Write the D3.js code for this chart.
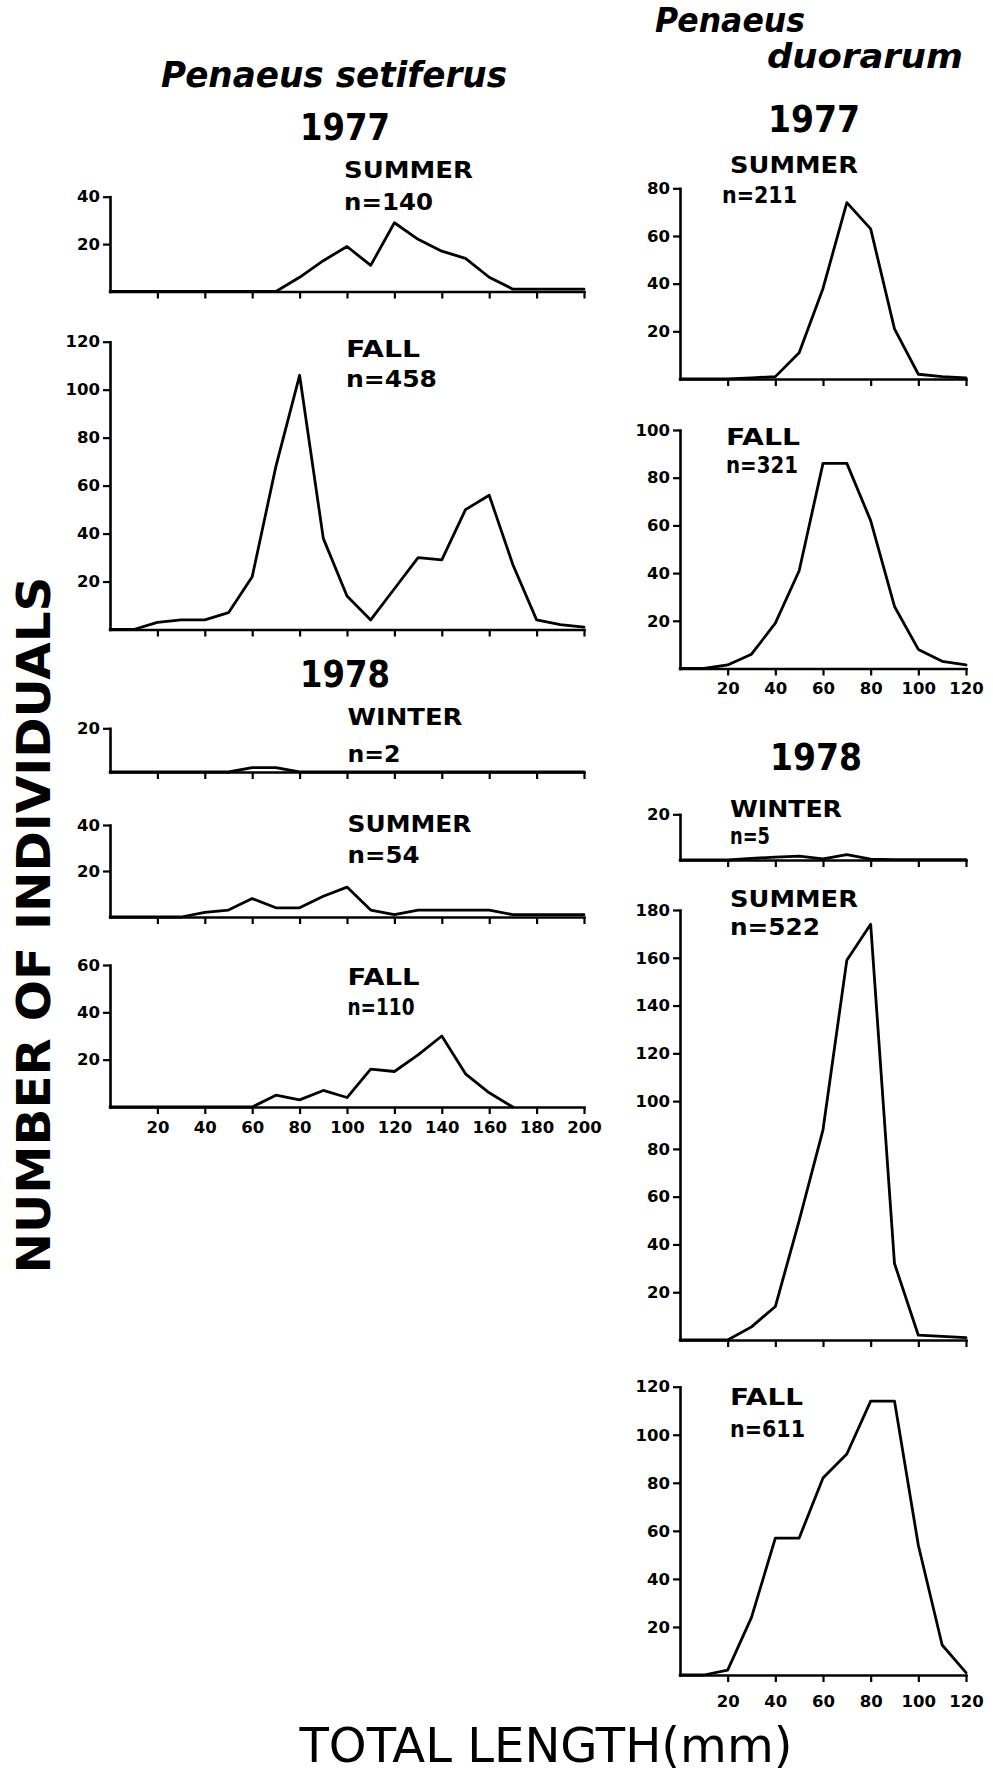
<!DOCTYPE html>
<html><head><meta charset="utf-8">
<script src="https://cdn.jsdelivr.net/npm/d3@7"></script>
<style>
html,body{margin:0;padding:0;background:#fff;}
svg{display:block;}
</style></head><body>
<svg id="chart" width="993" height="1776"></svg>
<script>
// ---------------- DATA ----------------
// Total length classes (mm)
const lengthsSetiferus = [0,10,20,30,40,50,60,70,80,90,100,110,120,130,140,150,160,170,180,190,200];
const lengthsDuorarum  = [0,10,20,30,40,50,60,70,80,90,100,110,120];

// Penaeus setiferus — number of individuals per length class
const setiferusSummer1977 = [0,0,0,0,0,0,0,0,6,13,19,11,29,22,17,14,6,1,1,1,1];
const setiferusFall1977   = [0,0,3,4,4,7,22,68,106,38,14,4,17,30,29,50,56,27,4,2,1];
const setiferusWinter1978 = [0,0,0,0,0,0,2,2,0,0,0,0,0,0,0,0,0,0,0,0,0];
const setiferusSummer1978 = [0,0,0,0,2,3,8,4,4,9,13,3,1,3,3,3,3,1,1,1,1];
const setiferusFall1978   = [0,0,0,0,0,0,0,5,3,7,4,16,15,22,30,14,6,0];

// Penaeus duorarum — number of individuals per length class
const duorarumSummer1977 = [0,0,0,0.5,1,11,38,74,63,21,2,1,0.5];
const duorarumFall1977   = [0,0,1.5,6,19,41,86,86,62,26,8,3,1.5];
const duorarumWinter1978 = [0,0,0,0.7,1.3,1.7,0.5,2.3,0.4,0.2,0.2,0.2,0.2];
const duorarumSummer1978 = [0,0,0,5.5,14,50,88,159,174,32,2,1.5,1];
const duorarumFall1978   = [0,0,2,24,57,57,82,92,114,114,54,12.5,1];

// Tick labels
const xTicksSetiferus = [20,40,60,80,100,120,140,160,180,200];
const xTicksDuorarum  = [20,40,60,80,100,120];
const yTicks20   = [20];
const yTicks40   = [20,40];
const yTicks60   = [20,40,60];
const yTicks80   = [20,40,60,80];
const yTicks100  = [20,40,60,80,100];
const yTicks120  = [20,40,60,80,100,120];
const yTicks180  = [20,40,60,80,100,120,140,160,180];

// Text labels
const speciesLeft  = "Penaeus setiferus";
const speciesRight1 = "Penaeus";
const speciesRight2 = "duorarum";
const years = ["1977","1978"];
const seasons = ["SUMMER","FALL","WINTER","SUMMER","FALL"];
const nLeft  = ["n=140","n=458","n=2","n=54","n=110"];
const nRight = ["n=211","n=321","n=5","n=522","n=611"];
const yTitle = "NUMBER OF INDIVIDUALS";
const xTitle = "TOTAL LENGTH(mm)";

// ---------------- LAYOUT ----------------
const svg = d3.select("#chart");
const FONT = "'DejaVu Sans', 'Liberation Sans', Arial, sans-serif";

const leftX  = [110, 584];
const rightX = [680, 966];

const panels = [
  {lengths: lengthsSetiferus, values: setiferusSummer1977, xmax:200, xr:leftX, ymax:40,  y0:291.5, y1:196.7, yt:yTicks40,  xt:xTicksSetiferus, showX:false, pad:7},
  {lengths: lengthsSetiferus, values: setiferusFall1977,   xmax:200, xr:leftX, ymax:120, y0:629.5, y1:341.7, yt:yTicks120, xt:xTicksSetiferus, showX:false, pad:7},
  {lengths: lengthsSetiferus, values: setiferusWinter1978, xmax:200, xr:leftX, ymax:20,  y0:772,   y1:728.3, yt:yTicks20,  xt:xTicksSetiferus, showX:false, pad:7},
  {lengths: lengthsSetiferus, values: setiferusSummer1978, xmax:200, xr:leftX, ymax:40,  y0:917,   y1:825,   yt:yTicks40,  xt:xTicksSetiferus, showX:false, pad:7},
  {lengths: lengthsSetiferus, values: setiferusFall1978,   xmax:200, xr:leftX, ymax:60,  y0:1107,  y1:965,   yt:yTicks60,  xt:xTicksSetiferus, showX:true,  pad:7},
  {lengths: lengthsDuorarum, values: duorarumSummer1977, xmax:120, xr:rightX, ymax:80,  y0:379,  y1:188.3, yt:yTicks80,  xt:xTicksDuorarum, showX:false, pad:7},
  {lengths: lengthsDuorarum, values: duorarumFall1977,   xmax:120, xr:rightX, ymax:100, y0:668.5,y1:430,   yt:yTicks100, xt:xTicksDuorarum, showX:true,  pad:7},
  {lengths: lengthsDuorarum, values: duorarumWinter1978, xmax:120, xr:rightX, ymax:20,  y0:860,  y1:814.3, yt:yTicks20,  xt:xTicksDuorarum, showX:false, pad:7},
  {lengths: lengthsDuorarum, values: duorarumSummer1978, xmax:120, xr:rightX, ymax:180, y0:1340, y1:910,   yt:yTicks180, xt:xTicksDuorarum, showX:false, pad:7},
  {lengths: lengthsDuorarum, values: duorarumFall1978,   xmax:120, xr:rightX, ymax:120, y0:1675, y1:1386.7,yt:yTicks120, xt:xTicksDuorarum, showX:true,  pad:13}
];

function drawPanel(p) {
  const x = d3.scaleLinear().domain([0, p.xmax]).range(p.xr);
  const y = d3.scaleLinear().domain([0, p.ymax]).range([p.y0, p.y1]);
  const g = svg.append("g");

  const xa = d3.axisBottom(x).tickValues(p.xt).tickSize(7).tickSizeOuter(0).tickPadding(p.pad)
      .tickFormat(p.showX ? d3.format("d") : () => "");
  const gx = g.append("g").attr("transform", `translate(0,${p.y0})`).call(xa);

  const ya = d3.axisLeft(y).tickValues(p.yt).tickSize(7).tickSizeOuter(0).tickPadding(3)
      .tickFormat(d3.format("d"));
  const gy = g.append("g").attr("transform", `translate(${p.xr[0]},0)`).call(ya);

  [gx, gy].forEach(a => {
    a.select(".domain").attr("stroke", "#000").attr("stroke-width", 2.6).attr("stroke-linecap","square");
    a.selectAll(".tick line").attr("stroke", "#000").attr("stroke-width", 2.2);
    a.selectAll(".tick text").attr("fill", "#000").style("font-family", FONT)
      .style("font-weight", "bold").style("font-size", "16.5px");
  });

  const line = d3.line().x(d => x(d[0])).y(d => y(d[1]));
  g.append("path")
    .datum(d3.zip(p.lengths.slice(0, p.values.length), p.values))
    .attr("d", line)
    .attr("fill", "none").attr("stroke", "#000")
    .attr("stroke-width", 2.8).attr("stroke-linejoin", "round").attr("stroke-linecap", "round");
}
panels.forEach(drawPanel);

function label(txt, x, y, size, len, opts = {}) {
  const t = svg.append("text").text(txt)
    .attr("x", x).attr("y", y)
    .attr("fill", "#000")
    .style("font-family", FONT)
    .style("font-size", size + "px")
    .style("font-weight", opts.weight || "bold")
    .style("font-style", opts.italic ? "italic" : "normal");
  if (len) t.attr("textLength", len).attr("lengthAdjust", "spacingAndGlyphs");
  if (opts.anchor) t.attr("text-anchor", opts.anchor);
  if (opts.transform) t.attr("transform", opts.transform);
  return t;
}

// species titles
label(speciesLeft, 161, 87, 35, 346, {italic:true});
label(speciesRight1, 655, 32, 34, 150, {italic:true});
label(speciesRight2, 767, 68, 34, 196, {italic:true});

// years
label(years[0], 300, 140, 38, 90);
label(years[1], 300, 687, 38, 90);
label(years[0], 768, 132, 38, 92);
label(years[1], 770, 770, 38, 92);

// season / n labels — left
const leftLab = [
  {x:344, ys:178.3, yn:210,  ls:129, ln:89},
  {x:346, ys:356.7, yn:386.7,ls:74,  ln:91},
  {x:347.5, ys:725, yn:761.7,ls:115, ln:53},
  {x:347.5, ys:831.7,yn:863.3,ls:124,ln:72},
  {x:347.5, ys:985, yn:1015, ls:72,  ln:67}
];
leftLab.forEach((l, i) => {
  label(seasons[i], l.x, l.ys, 23, l.ls);
  label(nLeft[i], l.x, l.yn, 23, l.ln);
});
const rightLab = [
  {x:730, xn:722, ys:173, yn:203, ls:128, ln:75},
  {x:726, xn:726, ys:445, yn:473, ls:74,  ln:72},
  {x:730, xn:730, ys:816.7, yn:844, ls:112, ln:40},
  {x:730, xn:730, ys:906.7, yn:935, ls:128, ln:90},
  {x:730, xn:730, ys:1405, yn:1437, ls:73, ln:75}
];
rightLab.forEach((l, i) => {
  label(seasons[i], l.x, l.ys, 23, l.ls);
  label(nRight[i], l.xn, l.yn, 23, l.ln);
});

// axis titles
label(yTitle, 0, 0, 46, 697, {anchor:"middle", transform:"translate(50,925) rotate(-90)"});
label(xTitle, 546, 1762, 48, 493, {anchor:"middle", weight:"normal"});
</script>
</body></html>
